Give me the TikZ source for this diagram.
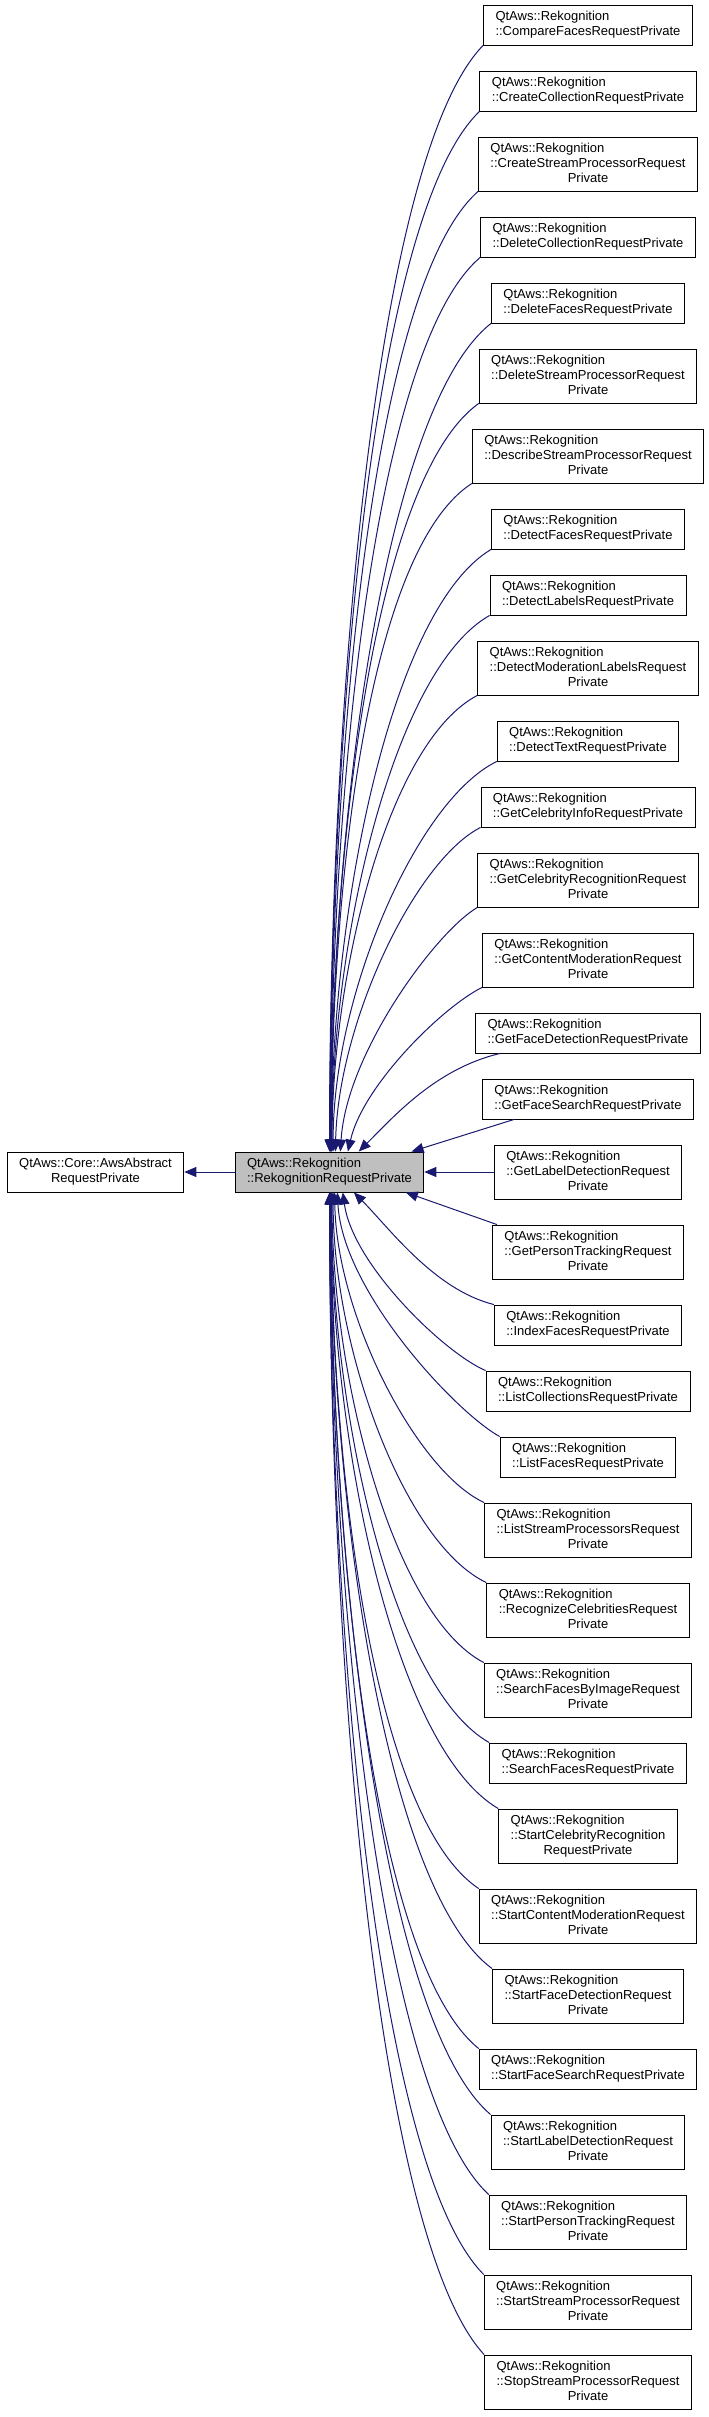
\documentclass[tikz,border=0pt]{standalone}
\usepackage{fontspec}
\setmainfont{Liberation Sans}
\usepackage{tikz}
\usetikzlibrary{arrows.meta}

\definecolor{edgeblue}{HTML}{191970}
\definecolor{nodegray}{HTML}{BFBFBF}

\newcommand{\twoline}[2]{\begin{tabular}{@{}l@{}}#1\\#2\end{tabular}}
\newcommand{\threeline}[3]{\begin{tabular}{@{}l@{}}#1\\#2\\\multicolumn{1}{@{}c@{}}{#3}\end{tabular}}
\newcommand{\lastcentered}[2]{\begin{tabular}{@{}l@{}}#1\\\multicolumn{1}{@{}c@{}}{#2}\end{tabular}}
\newcommand{\rk}{QtAws::Rekognition}

\begin{document}
\begin{tikzpicture}[x=1pt,y=-1pt,
  cls/.style={draw=black,fill=white,line width=0.9pt,inner xsep=12pt,inner ysep=3pt,
    minimum height=40pt,font=\fontsize{13}{15}\selectfont},
  cls3/.style={cls,minimum height=54pt},
  edge/.style={draw=edgeblue,line width=1pt,-{Triangle[length=12pt,width=10pt]}}]
\useasboundingbox (0,0) rectangle (709,2417);

% base class and the class itself
\node[cls] (base) at (95.5,1172) {\lastcentered{QtAws::Core::AwsAbstract}{RequestPrivate}};
\node[cls,fill=nodegray] (rek) at (329.5,1172) {\twoline{\rk}{::RekognitionRequestPrivate}};
\draw[edge] (rek) -- (base);

% derived classes
\node[cls]  (compare)         at (588,25)   {\twoline{\rk}{::CompareFacesRequestPrivate}};
\node[cls]  (createcoll)      at (588,91)   {\twoline{\rk}{::CreateCollectionRequestPrivate}};
\node[cls3] (createsp)        at (588,164)  {\threeline{\rk}{::CreateStreamProcessorRequest}{Private}};
\node[cls]  (deletecoll)      at (588,237)  {\twoline{\rk}{::DeleteCollectionRequestPrivate}};
\node[cls]  (deletefaces)     at (588,303)  {\twoline{\rk}{::DeleteFacesRequestPrivate}};
\node[cls3] (deletesp)        at (588,376)  {\threeline{\rk}{::DeleteStreamProcessorRequest}{Private}};
\node[cls3] (describesp)      at (588,456)  {\threeline{\rk}{::DescribeStreamProcessorRequest}{Private}};
\node[cls]  (detectfaces)     at (588,529)  {\twoline{\rk}{::DetectFacesRequestPrivate}};
\node[cls]  (detectlabels)    at (588,595)  {\twoline{\rk}{::DetectLabelsRequestPrivate}};
\node[cls3] (detectmod)       at (588,668)  {\threeline{\rk}{::DetectModerationLabelsRequest}{Private}};
\node[cls]  (detecttext)      at (588,741)  {\twoline{\rk}{::DetectTextRequestPrivate}};
\node[cls]  (celebinfo)       at (588,807)  {\twoline{\rk}{::GetCelebrityInfoRequestPrivate}};
\node[cls3] (getcelebrec)     at (588,880)  {\threeline{\rk}{::GetCelebrityRecognitionRequest}{Private}};
\node[cls3] (getcontent)      at (588,960)  {\threeline{\rk}{::GetContentModerationRequest}{Private}};
\node[cls]  (getfacedet)      at (588,1033) {\twoline{\rk}{::GetFaceDetectionRequestPrivate}};
\node[cls]  (getfacesearch)   at (588,1099) {\twoline{\rk}{::GetFaceSearchRequestPrivate}};
\node[cls3] (getlabel)        at (588,1172) {\threeline{\rk}{::GetLabelDetectionRequest}{Private}};
\node[cls3] (getperson)       at (588,1252) {\threeline{\rk}{::GetPersonTrackingRequest}{Private}};
\node[cls]  (indexfaces)      at (588,1325) {\twoline{\rk}{::IndexFacesRequestPrivate}};
\node[cls]  (listcoll)        at (588,1391) {\twoline{\rk}{::ListCollectionsRequestPrivate}};
\node[cls]  (listfaces)       at (588,1457) {\twoline{\rk}{::ListFacesRequestPrivate}};
\node[cls3] (listsp)          at (588,1530) {\threeline{\rk}{::ListStreamProcessorsRequest}{Private}};
\node[cls3] (recognize)       at (588,1610) {\threeline{\rk}{::RecognizeCelebritiesRequest}{Private}};
\node[cls3] (searchbyimg)     at (588,1690) {\threeline{\rk}{::SearchFacesByImageRequest}{Private}};
\node[cls]  (searchfaces)     at (588,1763) {\twoline{\rk}{::SearchFacesRequestPrivate}};
\node[cls3] (startcelebrec)   at (588,1836) {\threeline{\rk}{::StartCelebrityRecognition}{RequestPrivate}};
\node[cls3] (startcontent)    at (588,1916) {\threeline{\rk}{::StartContentModerationRequest}{Private}};
\node[cls3] (startfacedet)    at (588,1996) {\threeline{\rk}{::StartFaceDetectionRequest}{Private}};
\node[cls]  (startfacesearch) at (588,2069) {\twoline{\rk}{::StartFaceSearchRequestPrivate}};
\node[cls3] (startlabel)      at (588,2142) {\threeline{\rk}{::StartLabelDetectionRequest}{Private}};
\node[cls3] (startperson)     at (588,2222) {\threeline{\rk}{::StartPersonTrackingRequest}{Private}};
\node[cls3] (startsp)         at (588,2302) {\threeline{\rk}{::StartStreamProcessorRequest}{Private}};
\node[cls3] (stopsp)          at (588,2382) {\threeline{\rk}{::StopStreamProcessorRequest}{Private}};

% inheritance edges, upper half
\draw[edge] (compare.south west)      .. controls +(-108,111) and +(0,-443) .. (rek.90);
\draw[edge] (createcoll.south west)   .. controls +(-108,104) and +(0,-417) .. (rek.89);
\draw[edge] (createsp.south west)     .. controls +(-108,96) and +(0,-385) .. (rek.88);
\draw[edge] (deletecoll.south west)   .. controls +(-106,90) and +(0,-358) .. (rek.87);
\draw[edge] (deletefaces.south west)  .. controls +(-106,83) and +(0,-332) .. (rek.86);
\draw[edge] (deletesp.south west)     .. controls +(-105,75) and +(0,-300) .. (rek.86);
\draw[edge] (describesp.south west)   .. controls +(-104,67) and +(0,-268) .. (rek.85);
\draw[edge] (detectfaces.south west)  .. controls +(-100,60) and +(0,-242) .. (rek.85);
\draw[edge] (detectlabels.south west) .. controls +(-95,54) and +(0,-215) .. (rek.84);
\draw[edge] (detectmod.south west)    .. controls +(-88,46) and +(0,-183) .. (rek.83);
\draw[edge] (detecttext.south west)   .. controls +(-80,39) and +(0,-157) .. (rek.80);
\draw[edge] (celebinfo.south west)    .. controls +(-65,33) and +(3,-130) .. (rek.74);
\draw[edge] (getcelebrec.south west)  .. controls +(-42,25) and +(6,-98) .. (rek.62);
\draw[edge] (getcontent.south west)   .. controls +(-40,20) and +(15,-66) .. (rek.48);
\draw[edge] ([xshift=25pt]getfacedet.south west) .. controls +(-64,15) and +(35,-35) .. (rek.35);
\draw[edge] ([xshift=32pt]getfacesearch.south west) -- (rek.14);
\draw[edge] (getlabel) -- (rek);

% inheritance edges, lower half
\draw[edge] ([xshift=5pt]getperson.north west) -- (rek.345);
\draw[edge] (indexfaces.north west)      .. controls +(-60,-15) and +(35,35) .. (rek.320);
\draw[edge] (listcoll.north west)        .. controls +(-42,-18) and +(10,72) .. (rek.303);
\draw[edge] (listfaces.north west)       .. controls +(-45,-25) and +(5,98) .. (rek.291);
\draw[edge] (listsp.north west)          .. controls +(-67,-31) and +(2,124) .. (rek.284);
\draw[edge] (recognize.north west)       .. controls +(-82,-39) and +(0,156) .. (rek.280);
\draw[edge] (searchbyimg.north west)     .. controls +(-90,-47) and +(0,188) .. (rek.277);
\draw[edge] (searchfaces.north west)     .. controls +(-97,-55) and +(0,220) .. (rek.275);
\draw[edge] (startcelebrec.north west)   .. controls +(-105,-62) and +(0,247) .. (rek.274);
\draw[edge] (startcontent.north west)    .. controls +(-105,-70) and +(0,279) .. (rek.274);
\draw[edge] (startfacedet.north west)    .. controls +(-106,-78) and +(0,311) .. (rek.273);
\draw[edge] (startfacesearch.north west) .. controls +(-107,-86) and +(0,343) .. (rek.273);
\draw[edge] (startlabel.north west)      .. controls +(-108,-92) and +(0,369) .. (rek.272);
\draw[edge] (startperson.north west)     .. controls +(-108,-100) and +(0,401) .. (rek.271);
\draw[edge] (startsp.north west)         .. controls +(-108,-108) and +(0,433) .. (rek.270);
\draw[edge] (stopsp.north west)          .. controls +(-108,-116) and +(0,465) .. (rek.270);
\end{tikzpicture}
\end{document}
